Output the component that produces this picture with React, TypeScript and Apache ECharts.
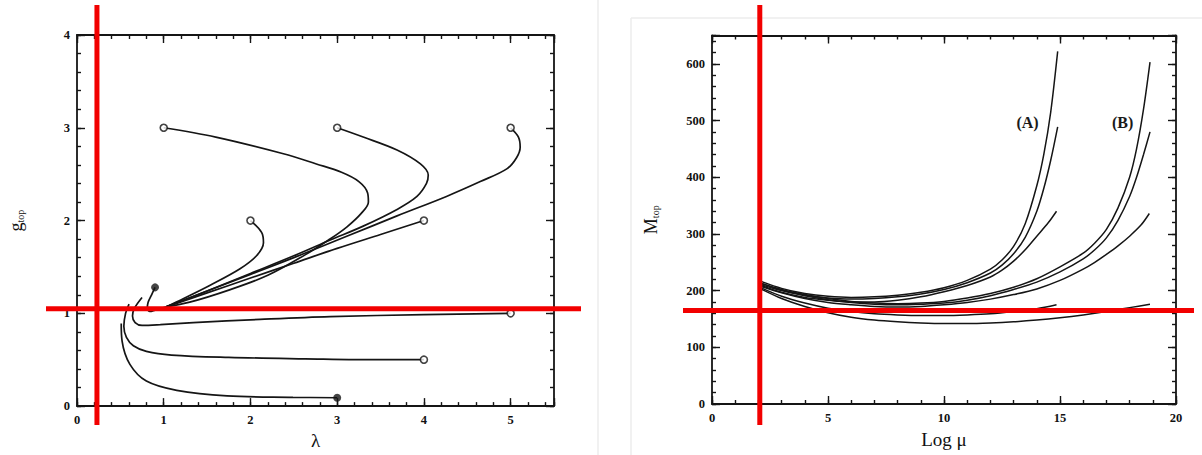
import { useEffect, useRef } from "react";
import * as echarts from "echarts";

// ---------------- Left panel: g_top versus λ ----------------
const lambdaRange = [0, 5.5];
const gRange = [0, 4];
const lambdaTickLabels = [0, 1, 2, 3, 4, 5];
const gTickLabels = [0, 1, 2, 3, 4];

const trajFrom_1_3 = [[1, 3], [1.6, 2.9], [2.38, 2.72], [2.76, 2.61], [3.05, 2.52], [3.25, 2.42], [3.35, 2.3], [3.36, 2.2], [3.28, 2.08], [3.11, 1.93], [2.9, 1.79], [2.63, 1.63], [2.2, 1.41], [1.75, 1.25], [1.3, 1.12], [1.03, 1.07]];
const trajFrom_3_3 = [[3, 3], [3.3, 2.9], [3.69, 2.76], [3.96, 2.61], [4.05, 2.49], [4.03, 2.4], [3.92, 2.26], [3.69, 2.12], [3.3, 1.94], [2.92, 1.79], [2.5, 1.62], [2.0, 1.43], [1.5, 1.24], [1.03, 1.07]];
const trajFrom_5_3 = [[5, 3], [5.09, 2.9], [5.11, 2.79], [5.07, 2.68], [4.96, 2.56], [4.65, 2.42], [4.26, 2.26], [3.69, 2.05], [3.11, 1.83], [2.5, 1.6], [2.0, 1.42], [1.5, 1.24], [1.03, 1.07]];
const trajFrom_2_2 = [[2, 2], [2.13, 1.87], [2.15, 1.76], [2.07, 1.62], [1.88, 1.48], [1.53, 1.3], [1.23, 1.16], [1.03, 1.07]];
const trajFrom_4_2 = [[4, 2], [3.5, 1.85], [3.0, 1.7], [2.5, 1.54], [2.0, 1.38], [1.5, 1.22], [1.03, 1.07]];
const trajHook = [[1.03, 1.07], [0.9, 1.035], [0.84, 1.02], [0.81, 1.05], [0.82, 1.12], [0.86, 1.2], [0.9, 1.28]];
const trajFrom_5_1 = [[5, 1], [4, 0.985], [2.92, 0.965], [2.11, 0.935], [1.34, 0.9], [0.96, 0.878], [0.75, 0.87], [0.67, 0.9], [0.64, 0.97], [0.66, 1.05], [0.75, 1.17]];
const trajFrom_4_05 = [[4, 0.5], [3.5, 0.5], [2.63, 0.51], [1.75, 0.525], [1.09, 0.55], [0.8, 0.59], [0.65, 0.65], [0.57, 0.74], [0.54, 0.86], [0.56, 1.0], [0.6, 1.1]];
const trajFrom_3_01 = [[3, 0.09], [2.49, 0.095], [1.73, 0.11], [1.15, 0.17], [0.8, 0.27], [0.61, 0.45], [0.52, 0.7], [0.51, 0.89]];

const openMarkers = [[1, 3], [3, 3], [5, 3], [2, 2], [4, 2], [5, 1], [4, 0.5]];
const filledMarkers = [[3, 0.09], [0.9, 1.28]];
const leftGuide = [0.23, 1.05]; // red guide lines: λ, g

// ---------------- Right panel: M_top versus Log μ ----------------
const logMuRange = [0, 20];
const mRange = [0, 650];
const logMuTickLabels = [0, 5, 10, 15, 20];
const mTickLabels = [0, 100, 200, 300, 400, 500, 600];

const curveA1 = [[2, 218], [3, 204], [4, 195], [5, 190], [6, 188], [7, 189], [8, 192], [9, 197], [10, 205], [11, 218], [12, 238], [12.5, 254], [13, 278], [13.5, 318], [14, 385], [14.3, 440], [14.6, 515], [14.9, 622]];
const curveA2 = [[2, 215], [3, 201], [4, 192], [5, 187], [6, 185], [7, 186], [8, 189], [9, 194], [10, 202], [11, 214], [12, 231], [12.5, 245], [13, 265], [13.5, 294], [14, 340], [14.3, 380], [14.6, 430], [14.9, 489]];
const curveA3 = [[2, 211], [3, 197], [4, 188], [5, 183], [6, 180], [7, 180], [8, 183], [9, 189], [10, 198], [11, 209], [12, 224], [12.5, 236], [13, 252], [13.5, 272], [14, 296], [14.5, 320], [14.85, 340]];
const curveA4 = [[2, 207], [3, 190], [4, 178], [5, 169], [6, 163], [7, 159], [8, 157], [9, 156], [10, 156], [11, 157], [12, 159], [13, 163], [14, 168], [14.85, 175]];
const curveB1 = [[2, 214], [3, 202], [4, 193], [5, 186], [6, 181], [7, 178], [8, 177], [9, 178], [10, 181], [11, 187], [12, 195], [13, 206], [14, 221], [15, 242], [16, 266], [16.5, 284], [17, 308], [17.5, 346], [18, 400], [18.3, 450], [18.6, 520], [18.88, 603]];
const curveB2 = [[2, 212], [3, 200], [4, 191], [5, 184], [6, 179], [7, 176], [8, 175], [9, 176], [10, 178], [11, 183], [12, 191], [13, 202], [14, 215], [15, 233], [16, 256], [16.5, 272], [17, 293], [17.5, 324], [18, 366], [18.3, 400], [18.6, 440], [18.88, 480]];
const curveB3 = [[2, 209], [3, 196], [4, 186], [5, 179], [6, 175], [7, 172], [8, 171], [9, 172], [10, 175], [11, 179], [12, 185], [13, 193], [14, 203], [15, 218], [16, 238], [16.5, 250], [17, 264], [17.5, 279], [18, 296], [18.5, 316], [18.85, 336]];
const curveB4 = [[2, 205], [3, 186], [4, 172], [5, 161], [6, 153], [7, 148], [8, 145], [9, 143], [10, 142], [11, 142], [12, 143], [13, 145], [14, 148], [15, 152], [16, 157], [17, 163], [18, 170], [18.88, 176]];
const groupLabels = [["(A)", 13.6, 496], ["(B)", 17.7, 496]];
const rightGuide = [2.06, 165]; // red guide lines: Log μ, M

const leftCurves = [trajFrom_1_3, trajFrom_3_3, trajFrom_5_3, trajFrom_2_2, trajFrom_4_2, trajHook, trajFrom_5_1, trajFrom_4_05, trajFrom_3_01];
const rightCurves = [curveA1, curveA2, curveA3, curveA4, curveB1, curveB2, curveB3, curveB4];

const INK = "#151515";
const SERIF = "'Liberation Serif', 'DejaVu Serif', serif";

function makeAxis(grid: number, position: string, range: number[], interval: number, major: boolean, labels: number[] | null, extra: any = {}) {
  return {
    type: "value",
    gridIndex: grid,
    position,
    min: range[0],
    max: range[1],
    interval,
    axisLine: { show: major, onZero: false, lineStyle: { color: INK, width: 1.8 } },
    axisTick: { show: true, inside: true, length: major ? 8 : 4, lineStyle: { color: INK, width: 1.4 } },
    axisLabel: labels
      ? {
          show: true,
          margin: 7,
          color: "#111",
          fontFamily: SERIF,
          fontWeight: "bold",
          fontSize: 12.5,
          formatter: (v: number) => (labels.some((l) => Math.abs(l - v) < 1e-9) ? String(v) : ""),
        }
      : { show: false },
    splitLine: { show: false },
    ...extra,
  };
}

const subRich = {
  m: { fontFamily: SERIF, fontSize: 18, color: "#111" },
  s: { fontFamily: SERIF, fontSize: 10, color: "#111", padding: [8, 0, 0, 0] },
};

export default function App() {
  const ref = useRef<HTMLDivElement>(null);
  useEffect(() => {
    const chart = echarts.init(ref.current!, null, { renderer: "svg" });

    const xAxis = [
      makeAxis(0, "bottom", lambdaRange, 1, true, lambdaTickLabels, {
        name: "λ",
        nameLocation: "middle",
        nameGap: 21,
        nameTextStyle: { fontFamily: SERIF, fontSize: 19, color: "#111", verticalAlign: "top" },
      }),
      makeAxis(0, "bottom", lambdaRange, 0.2, false, null),
      makeAxis(0, "top", lambdaRange, 1, true, null),
      makeAxis(0, "top", lambdaRange, 0.2, false, null),
      makeAxis(1, "bottom", logMuRange, 5, true, logMuTickLabels, {
        name: "Log μ",
        nameLocation: "middle",
        nameGap: 26,
        nameTextStyle: { fontFamily: SERIF, fontSize: 19, color: "#111", verticalAlign: "top" },
      }),
      makeAxis(1, "bottom", logMuRange, 1, false, null),
      makeAxis(1, "top", logMuRange, 5, true, null),
      makeAxis(1, "top", logMuRange, 1, false, null),
    ];
    const yAxis = [
      makeAxis(0, "left", gRange, 1, true, gTickLabels, {
        name: "{m|g}{s|top}",
        nameLocation: "middle",
        nameGap: 52,
        nameRotate: 90,
        nameTextStyle: { rich: subRich },
      }),
      makeAxis(0, "left", gRange, 0.2, false, null),
      makeAxis(0, "right", gRange, 1, true, null),
      makeAxis(0, "right", gRange, 0.2, false, null),
      makeAxis(1, "left", mRange, 100, true, mTickLabels, {
        name: "{m|M}{s|top}",
        nameLocation: "middle",
        nameGap: 52,
        nameRotate: 90,
        nameTextStyle: { rich: subRich },
      }),
      makeAxis(1, "left", mRange, 20, false, null),
      makeAxis(1, "right", mRange, 100, true, null),
      makeAxis(1, "right", mRange, 20, false, null),
    ];

    const series: any[] = [];
    leftCurves.forEach((c) =>
      series.push({
        type: "line",
        xAxisIndex: 0,
        yAxisIndex: 0,
        data: c,
        smooth: 0.35,
        showSymbol: false,
        lineStyle: { color: INK, width: 1.7 },
        z: 3,
      })
    );
    series.push({
      type: "scatter",
      xAxisIndex: 0,
      yAxisIndex: 0,
      data: openMarkers,
      symbolSize: 7,
      itemStyle: { color: "#fff", borderColor: INK, borderWidth: 1.6 },
      z: 4,
    });
    series.push({
      type: "scatter",
      xAxisIndex: 0,
      yAxisIndex: 0,
      data: filledMarkers,
      symbolSize: 8,
      itemStyle: { color: INK },
      z: 4,
    });
    const firstRight = series.length;
    rightCurves.forEach((c) =>
      series.push({
        type: "line",
        xAxisIndex: 4,
        yAxisIndex: 4,
        data: c,
        smooth: 0.3,
        showSymbol: false,
        lineStyle: { color: INK, width: 1.5 },
        z: 3,
      })
    );

    chart.setOption({
      animation: false,
      backgroundColor: "#ffffff",
      grid: [
        { left: 77, top: 35, width: 477, height: 374 },
        { left: 712, top: 35.5, width: 464, height: 368.5 },
      ],
      xAxis,
      yAxis,
      series,
    });

    const pl = chart.convertToPixel({ seriesIndex: 0 }, leftGuide) as number[];
    const pr = chart.convertToPixel({ seriesIndex: firstRight }, rightGuide) as number[];
    const red = { stroke: "#f20000", lineWidth: 5 };
    const faint = { stroke: "#ececec", lineWidth: 1.5 };
    const graphic: any[] = [
      { type: "line", shape: { x1: 598, y1: 0, x2: 598, y2: 455 }, style: faint, z: 1 },
      { type: "line", shape: { x1: 631, y1: 18, x2: 631, y2: 455 }, style: faint, z: 1 },
      { type: "line", shape: { x1: 631, y1: 18, x2: 1202, y2: 18 }, style: faint, z: 1 },
      { type: "line", shape: { x1: pl[0], y1: 5, x2: pl[0], y2: 425 }, style: red, z: 100 },
      { type: "line", shape: { x1: 46, y1: pl[1], x2: 581, y2: pl[1] }, style: red, z: 100 },
      { type: "line", shape: { x1: pr[0], y1: 5, x2: pr[0], y2: 425 }, style: red, z: 100 },
      { type: "line", shape: { x1: 683, y1: pr[1], x2: 1194, y2: pr[1] }, style: red, z: 100 },
    ];
    groupLabels.forEach(([t, x, y]) => {
      const p = chart.convertToPixel({ seriesIndex: firstRight }, [x as number, y as number]) as number[];
      graphic.push({
        type: "text",
        x: p[0],
        y: p[1],
        style: { text: t as string, fontFamily: SERIF, fontSize: 16, fontWeight: "bold", fill: "#1a1a1a", align: "center", verticalAlign: "middle" },
        z: 50,
      });
    });
    chart.setOption({ graphic });

    return () => chart.dispose();
  }, []);

  return (
    <div
      ref={ref}
      style={{ position: "fixed", left: 0, top: 0, width: 1202, height: 455, background: "#fff" }}
    />
  );
}
